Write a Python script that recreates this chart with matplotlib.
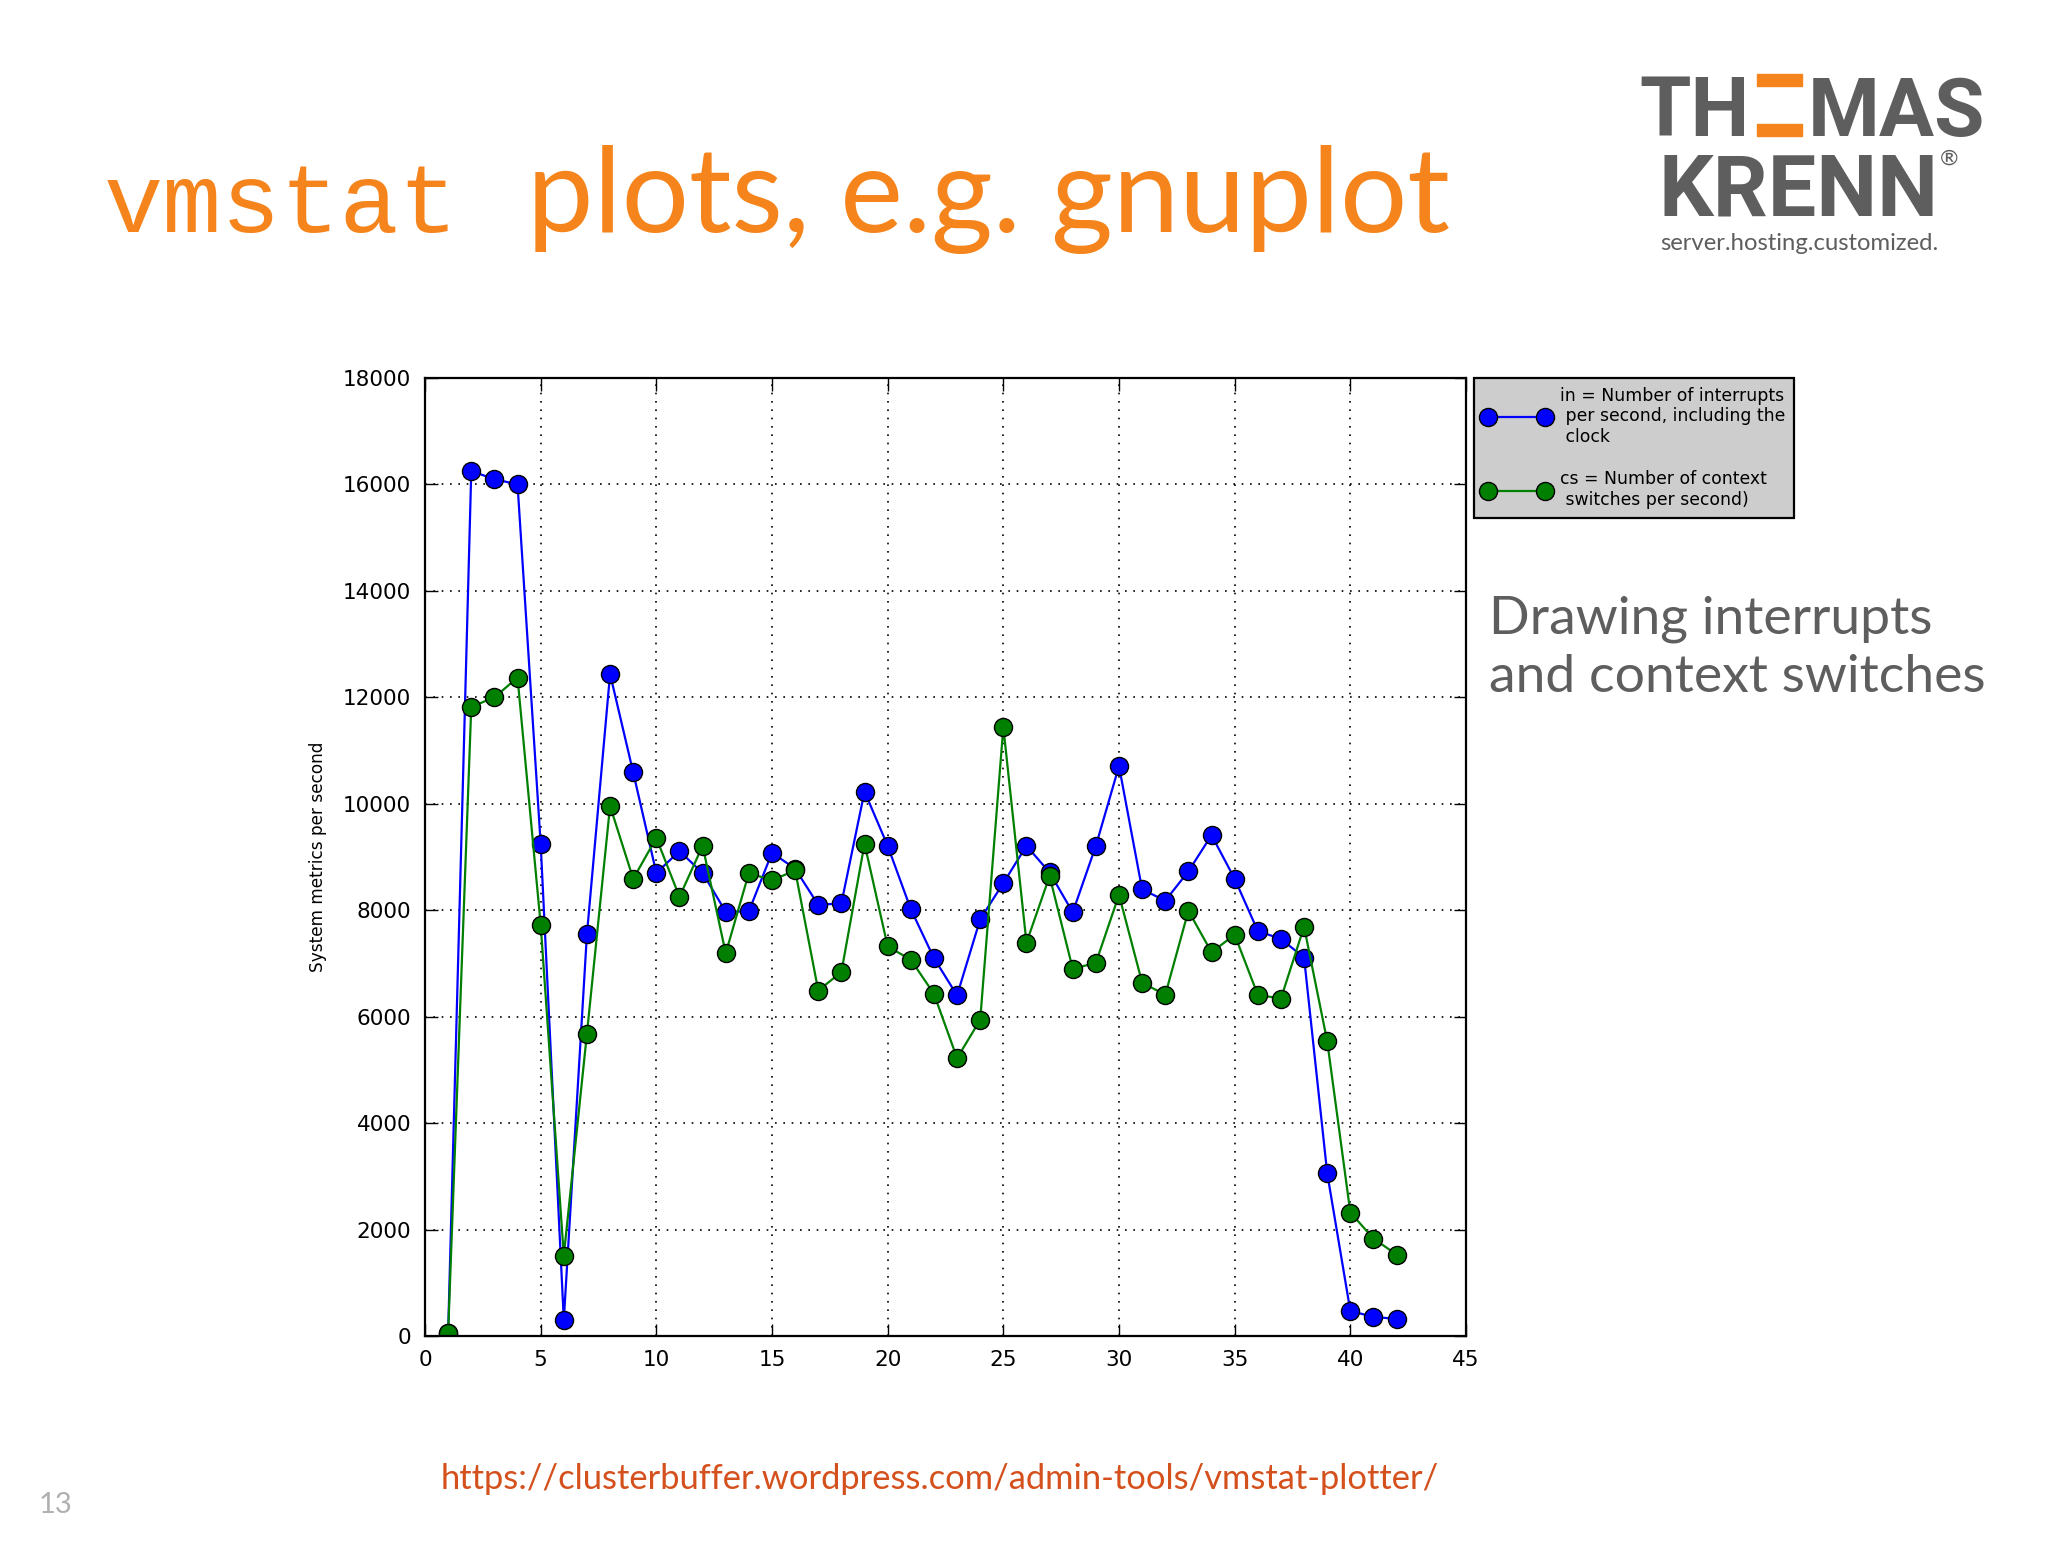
import matplotlib
matplotlib.use("Agg")
import matplotlib.pyplot as plt
from matplotlib.patches import Rectangle

# vmstat samples (x = sample number)
samples = list(range(1, 43))
interrupts = [50, 16250, 16100, 16000, 9250, 300, 7550, 12440, 10590, 8700,
              9110, 8700, 7970, 7980, 9080, 8780, 8100, 8130, 10230, 9210,
              8020, 7100, 6400, 7830, 8510, 9210, 8710, 7960, 9210, 10710,
              8390, 8180, 8730, 9410, 8590, 7610, 7460, 7110, 3060, 470,
              360, 320]
ctx_switches = [50, 11820, 12000, 12370, 7730, 1510, 5680, 9960, 8590, 9360,
                8250, 9210, 7190, 8700, 8560, 8750, 6490, 6840, 9250, 7320,
                7070, 6430, 5220, 5940, 11440, 7390, 8640, 6900, 7010, 8290,
                6640, 6410, 7990, 7210, 7540, 6410, 6340, 7690, 5540, 2320,
                1830, 1530]

in_label = "in = Number of interrupts\n per second, including the\n clock"
cs_label = "cs = Number of context\n switches per second)"

W, H = 2048, 1558
ORANGE = "#f5841c"
GREY = "#5e5e5e"


def fx(x):
    return x / W


def fy(y):
    return 1 - y / H


fig = plt.figure(figsize=(W / 100, H / 100), dpi=100)
fig.patch.set_facecolor("white")

# slide title
fig.text(fx(104), fy(232), "vmstat", family="Liberation Mono", fontsize=71,
         color=ORANGE, va="baseline", ha="left")
fig.text(fx(527), fy(232), "plots, e.g. gnuplot", family="Lato", fontsize=85.5,
         color=ORANGE, va="baseline", ha="left")

# logo
fig.text(fx(1750), fy(136), "TH", family="Roboto", weight="bold", fontsize=60,
         color=GREY, va="baseline", ha="right")
fig.patches.append(Rectangle((fx(1757), fy(86)), fx(45), 12 / H,
                             transform=fig.transFigure, color=ORANGE))
fig.patches.append(Rectangle((fx(1757), fy(136)), fx(45), 12 / H,
                             transform=fig.transFigure, color=ORANGE))
fig.text(fx(1808), fy(136), "MAS", family="Roboto", weight="bold", fontsize=59,
         color=GREY, va="baseline", ha="left")
fig.text(fx(1658), fy(215), "KRENN", family="Roboto", weight="bold", fontsize=62,
         color=GREY, va="baseline", ha="left")
fig.text(fx(1940), fy(165), "®", family="Lato", fontsize=16,
         color=GREY, va="baseline", ha="left")
fig.text(fx(1660), fy(250), "server.hosting.customized.", family="Lato",
         fontsize=17.2, color=GREY, va="baseline", ha="left")

# side note
fig.text(fx(1489), fy(692), "Drawing interrupts\nand context switches",
         family="Lato", fontsize=38.5, color=GREY, va="baseline", ha="left",
         linespacing=1.3)

# source url and page number
fig.text(fx(940), fy(1489), "https://clusterbuffer.wordpress.com/admin-tools/vmstat-plotter/",
         family="Lato", fontsize=24.8, color="#d4501c", va="baseline", ha="center")
fig.text(fx(39), fy(1513), "13", family="Lato", fontsize=21, color="#b0b0b0",
         va="baseline", ha="left")

# the plot
ax = fig.add_axes([fx(425), fy(1336), (1466 - 425) / W, (1336 - 378) / H])
ax.plot(samples, interrupts, "-o", color="#0000ff", lw=1.6, ms=13,
        mec="black", mew=1, label=in_label)
ax.plot(samples, ctx_switches, "-o", color="#007f00", lw=1.6, ms=13,
        mec="black", mew=1, label=cs_label)

ax.set_xlim(0, 45)
ax.set_ylim(0, 18000)
ax.set_xticks(range(0, 46, 5))
ax.set_yticks(range(0, 18001, 2000))
ax.grid(True, color="black", linestyle=(0, (1, 4)), linewidth=1.2)
ax.tick_params(direction="in", length=9, width=1, labelsize=15.5, pad=10,
               top=True, right=True)
for s in ax.spines.values():
    s.set_linewidth(1.6)
ax.set_ylabel("System metrics per second", fontsize=12.2)
ax.yaxis.set_label_coords(-0.094, 0.5)

leg = ax.legend(loc="upper left", bbox_to_anchor=(1.008, 1.0), borderaxespad=0,
                fontsize=12.4, numpoints=2, handlelength=3.9, handletextpad=0.6,
                labelspacing=1.4, borderpad=0.5, fancybox=False,
                framealpha=1, facecolor="#cdcdcd", edgecolor="black")
leg.get_frame().set_linewidth(1.6)

fig.savefig("out.png", dpi=100)
